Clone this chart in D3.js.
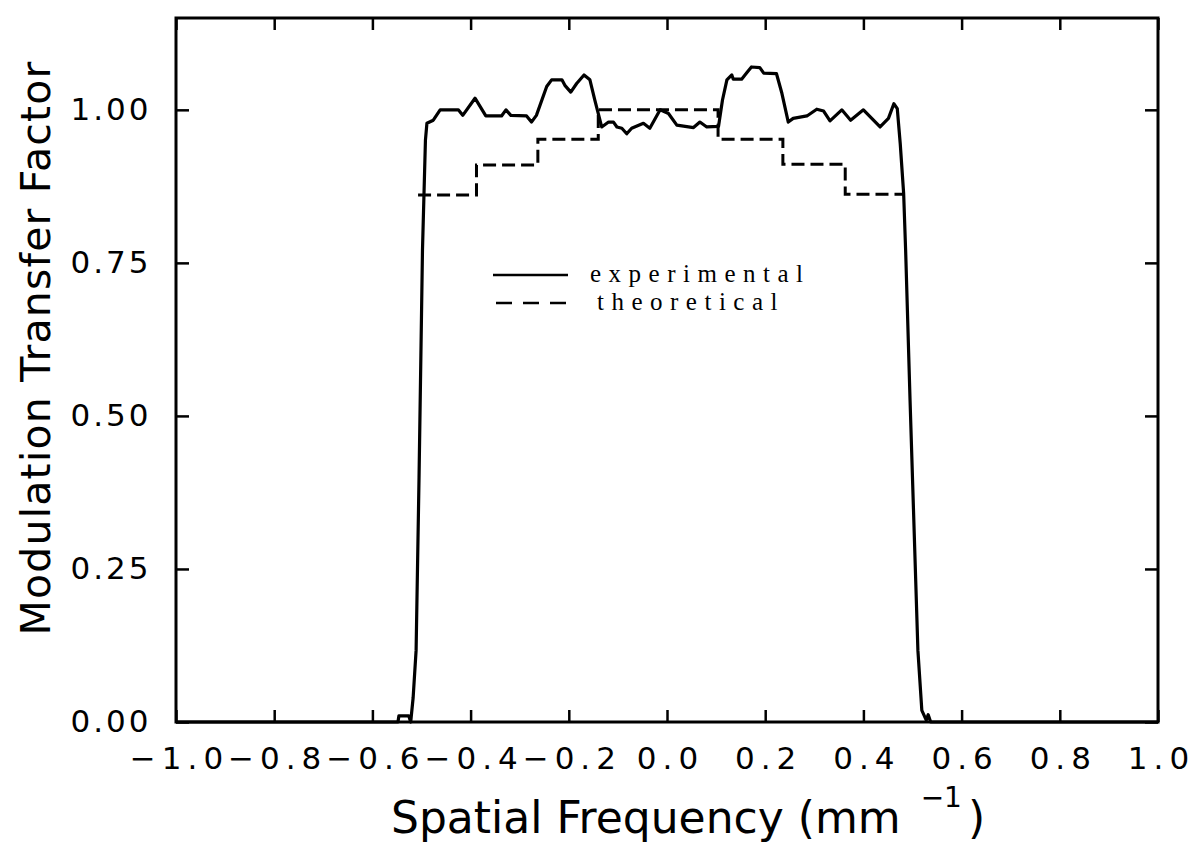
<!DOCTYPE html>
<html>
<head>
<meta charset="utf-8">
<script src="https://cdn.jsdelivr.net/npm/d3@7"></script>
<style>
  body { margin: 0; background: #fff; }
  svg { display: block; }
  .tick text { font-family: "DejaVu Sans", sans-serif; font-size: 31px; fill: #000; }
  .xax .tick text { letter-spacing: 6px; }
  .yax .tick text { letter-spacing: 3px; }
</style>
</head>
<body>
<svg id="mtf" width="1196" height="844"></svg>
<script>
// experimental curve (solid)
var expX = [-1.0, -0.548, -0.546, -0.526, -0.522, -0.517, -0.511, -0.505, -0.498, -0.492, -0.489,
  -0.476, -0.462, -0.425, -0.416, -0.391, -0.369, -0.337, -0.328, -0.318, -0.286, -0.276, -0.266,
  -0.245, -0.235, -0.214, -0.208, -0.196, -0.184, -0.169, -0.157, -0.147, -0.133, -0.119, -0.109,
  -0.102, -0.092, -0.082, -0.072, -0.048, -0.035, -0.014, 0.003, 0.020, 0.054, 0.067, 0.081, 0.105,
  0.113, 0.122, 0.132, 0.135, 0.152, 0.162, 0.172, 0.189, 0.197, 0.223, 0.234, 0.247, 0.257, 0.285,
  0.305, 0.319, 0.332, 0.356, 0.374, 0.400, 0.417, 0.434, 0.451, 0.462, 0.469, 0.475, 0.482, 0.486,
  0.495, 0.511, 0.519, 0.528, 0.532, 0.537, 1.0];
var expY = [0, 0, 0.010, 0.010, 0, 0.04, 0.117, 0.40, 0.771, 0.95, 0.978,
  0.983, 1.000, 1.000, 0.991, 1.019, 0.990, 0.990, 1.000, 0.991, 0.990, 0.980, 0.991,
  1.038, 1.049, 1.049, 1.040, 1.029, 1.043, 1.057, 1.049, 1.016, 0.972, 0.980, 0.980,
  0.972, 0.970, 0.961, 0.970, 0.978, 0.970, 1.000, 0.994, 0.975, 0.971, 0.980, 0.972, 0.973,
  1.016, 1.049, 1.057, 1.050, 1.050, 1.060, 1.070, 1.069, 1.060, 1.059, 1.027, 0.980, 0.986, 0.990,
  1.001, 0.998, 0.982, 1.000, 0.983, 1.000, 0.986, 0.972, 0.986, 1.010, 1.002, 0.945, 0.863, 0.771,
  0.526, 0.117, 0.019, 0.003, 0.012, 0, 0];

// theoretical curve (dashed, stepped)
var theoX = [-0.507, -0.388, -0.263, -0.140, 0.104, 0.236, 0.363, 0.481];
var theoY = [0.861, 0.910, 0.952, 1.000, 0.952, 0.911, 0.862, 0.862];

var xTicks = [-1.0, -0.8, -0.6, -0.4, -0.2, 0.0, 0.2, 0.4, 0.6, 0.8, 1.0];
var yTicks = [0, 0.25, 0.5, 0.75, 1.0];
var legendNames = ["experimental", "theoretical"];

var margin = {top: 18, right: 38, bottom: 122, left: 176},
    width = 1196 - margin.left - margin.right,
    height = 844 - margin.top - margin.bottom;

var svg = d3.select("svg#mtf")
  .append("g")
  .attr("transform", "translate(" + margin.left + "," + margin.top + ")");

var x = d3.scaleLinear().domain([-1, 1]).range([0, width]);
var y = d3.scaleLinear().domain([0, 1.15]).range([height, 0]);

// axes, ticks pointing inwards on all four sides
svg.append("g")
  .attr("class", "xax")
  .attr("transform", "translate(0," + height + ")")
  .call(d3.axisBottom(x).tickValues(xTicks).tickFormat(d3.format(".1f")).tickSize(-12).tickPadding(25));
svg.append("g")
  .call(d3.axisTop(x).tickValues(xTicks).tickFormat("").tickSize(-12));
svg.append("g")
  .attr("class", "yax")
  .call(d3.axisLeft(y).tickValues(yTicks).tickFormat(d3.format(".2f")).tickSize(-13).tickPadding(26));
svg.append("g")
  .attr("transform", "translate(" + width + ",0)")
  .call(d3.axisRight(y).tickValues(yTicks).tickFormat("").tickSize(-13));

svg.selectAll(".domain").remove();
svg.selectAll(".tick line").attr("stroke", "#000").attr("stroke-width", 2.5);
svg.selectAll(".xax .tick text").attr("dx", "3px");
svg.selectAll(".yax .tick text").attr("dx", "1.5px");

svg.append("rect")
  .attr("width", width).attr("height", height)
  .attr("fill", "none").attr("stroke", "#000").attr("stroke-width", 3);

var expLine = d3.line()
  .x(function(d, i) { return x(expX[i]); })
  .y(function(d) { return y(d); });

var theoLine = d3.line()
  .x(function(d, i) { return x(theoX[i]); })
  .y(function(d) { return y(d); })
  .curve(d3.curveStepAfter);

svg.append("path")
  .attr("d", theoLine(theoY))
  .attr("fill", "none").attr("stroke", "#000")
  .attr("stroke-width", 3).attr("stroke-dasharray", "13,6");

svg.append("path")
  .attr("d", expLine(expY))
  .attr("fill", "none").attr("stroke", "#000")
  .attr("stroke-width", 3.2).attr("stroke-linejoin", "round");

// legend
var legend = svg.append("g").attr("transform", "translate(" + (493 - margin.left) + "," + (257 - margin.top) + ")");
legend.append("line")
  .attr("x1", 0).attr("x2", 75).attr("y1", 18).attr("y2", 18)
  .attr("stroke", "#000").attr("stroke-width", 2.5);
legend.append("line")
  .attr("x1", 3).attr("x2", 73).attr("y1", 46).attr("y2", 46)
  .attr("stroke", "#000").attr("stroke-width", 2.5).attr("stroke-dasharray", "16,11");
legend.selectAll("text.lab")
  .data(legendNames)
  .enter().append("text")
  .attr("class", "lab")
  .attr("x", function(d, i) { return i ? 104 : 97; })
  .attr("y", function(d, i) { return 25 + i * 28; })
  .style("font-family", "'Liberation Serif', serif")
  .style("font-size", "25px")
  .style("letter-spacing", "7.5px")
  .text(function(d) { return d; });

// axis titles
var xt = d3.select("svg#mtf").append("text")
  .attr("x", 391).attr("y", 833)
  .style("font-family", "'DejaVu Sans', sans-serif")
  .style("font-size", "44px")
  .text("Spatial Frequency (mm");
xt.append("tspan").attr("dx", "20px").attr("dy", "-26px").style("font-size", "28px").text("\u22121");
xt.append("tspan").attr("dx", "6px").attr("dy", "26px").text(")");

d3.select("svg#mtf").append("text")
  .attr("transform", "translate(50,348) rotate(-90)")
  .attr("text-anchor", "middle")
  .style("font-family", "'DejaVu Sans', sans-serif")
  .style("font-size", "41px")
  .style("letter-spacing", "1.2px")
  .text("Modulation Transfer Factor");
</script>
</body>
</html>
